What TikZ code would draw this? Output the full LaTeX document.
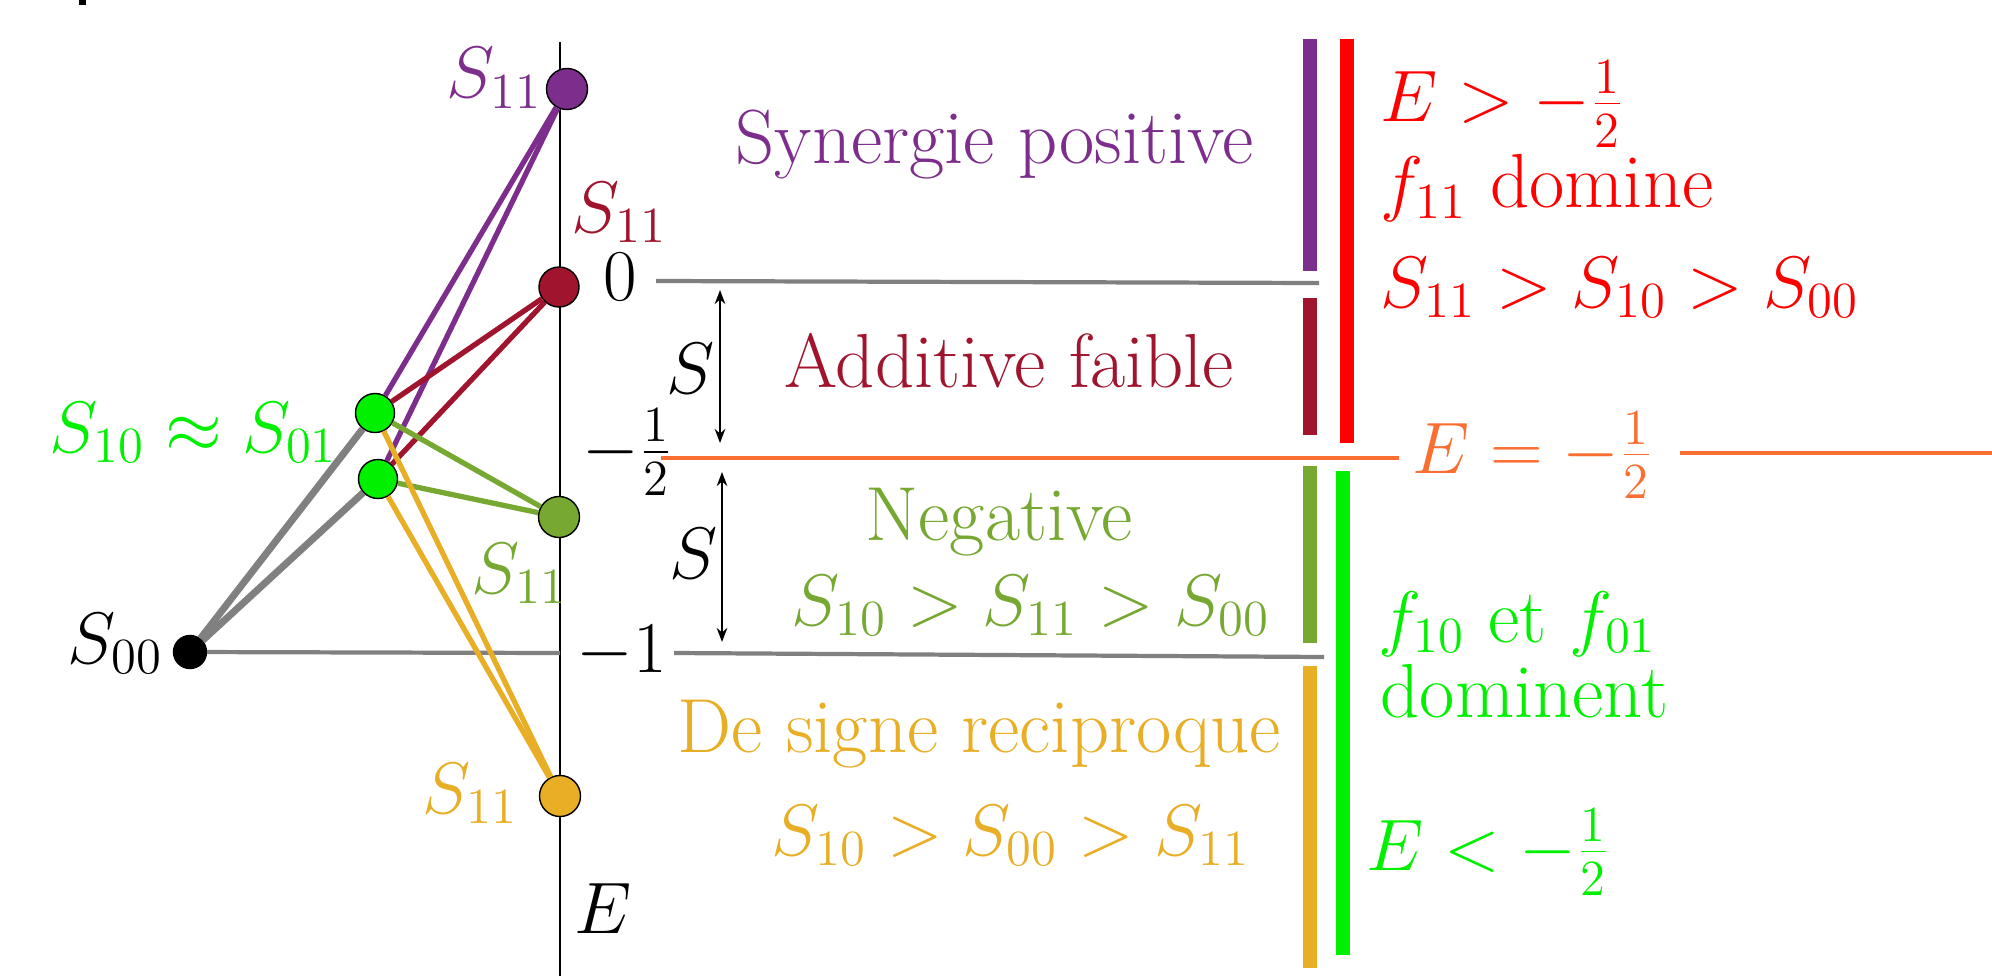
\documentclass[tikz,border=0pt]{standalone}
\usetikzlibrary{arrows.meta}
\definecolor{cpurple}{RGB}{125,45,140}
\definecolor{cdred}{RGB}{160,20,45}
\definecolor{colive}{RGB}{118,168,50}
\definecolor{cyel}{RGB}{232,174,37}
\definecolor{clime}{RGB}{0,240,0}
\definecolor{cred}{RGB}{255,0,0}
\definecolor{corange}{RGB}{250,110,50}
\definecolor{cgray}{RGB}{128,128,128}
\begin{document}
\begin{tikzpicture}[x=0.01cm,y=-0.01cm,
  lbl/.style={inner sep=0pt, font=\huge, anchor=base west},
  txt/.style={lbl, font=\fontsize{21.8}{26}\selectfont},
  dot/.style={circle, draw=black, line width=0.4pt, inner sep=0pt, minimum size=0.4cm},
  conn/.style={line width=1.5pt},
  bar/.style={line width=4pt},
  hline/.style={cgray, line width=1.2pt},
  dbl/.style={{Stealth[length=4pt,width=3pt]}-{Stealth[length=4pt,width=3pt]}, line width=0.6pt}
]
\useasboundingbox (0,0) rectangle (1992,976);
\fill (79,0) rectangle (86,5);
% axis
\coordinate (axtop) at (560,42);
\coordinate (axbot) at (560,976);
\coordinate (axm1) at (560,653);
\draw[line width=0.75pt] (axtop) -- (axbot);
% level lines
\coordinate (l0a) at (656,281);
\coordinate (l0b) at (1319,283);
\coordinate (l1a) at (674,653);
\coordinate (l1b) at (1324,657);
\coordinate (lha) at (661,458);
\coordinate (lhb) at (1399,458);
\coordinate (lhc) at (1680,453);
\coordinate (lhd) at (1992,453);
\draw[hline] (l0a) -- (l0b);
\draw[hline] (l1a) -- (l1b);
\draw[corange, line width=1.4pt] (lha) -- (lhb);
\draw[corange, line width=1.4pt] (lhc) -- (lhd);
% nodes
\node[dot, fill=cpurple, minimum size=0.41cm] (P) at (567,89) {};
\node[dot, fill=cdred] (R) at (559,287) {};
\node[dot, fill=colive, minimum size=0.41cm] (O) at (559,517) {};
\node[dot, fill=cyel, minimum size=0.41cm] (Y) at (560,796) {};
\node[dot, fill=clime, minimum size=0.39cm] (A) at (375,413) {};
\node[dot, fill=clime, minimum size=0.39cm] (B) at (378,479) {};
\node[dot, fill=black, minimum size=0.33cm] (Z) at (190,652) {};
% connectors
\draw[cgray, line width=2pt] (Z) -- (A);
\draw[cgray, line width=2pt] (Z) -- (B);
\draw[cgray, line width=1.2pt] (Z) -- (axm1);
\draw[conn, cpurple] (A) -- (P);
\draw[conn, cpurple] (B) -- (P);
\draw[conn, cdred] (A) -- (R);
\draw[conn, cdred] (B) -- (R);
\draw[conn, colive] (A) -- (O);
\draw[conn, colive] (B) -- (O);
\draw[conn, cyel] (A) -- (Y);
\draw[conn, cyel] (B) -- (Y);
% S arrows
\coordinate (s1a) at (720,290);
\coordinate (s1b) at (720,443);
\coordinate (s2a) at (722,472);
\coordinate (s2b) at (722,642);
\draw[dbl] (s1a) -- (s1b);
\draw[dbl] (s2a) -- (s2b);
% bars
\draw[bar, cpurple] (1310,39) -- (1310,271);
\draw[bar, cdred] (1310,298) -- (1310,435);
\draw[bar, colive] (1310,466) -- (1310,643);
\draw[bar, cyel] (1310,666) -- (1310,968);
\draw[bar, cred] (1347,39) -- (1347,443);
\draw[bar, clime] (1343,471) -- (1343,955);
% axis labels
\node[lbl, text=cpurple] (tP) at (446,98) {$S_{11}$};
\node[lbl, text=cdred] (tR) at (571,232) {$S_{11}$};
\node[lbl] (t0) at (603,300) {$0$};
\node[lbl, anchor=west] (th) at (582,452) {$-\frac{1}{2}$};
\node[lbl] (tm1) at (576,672) {$-1$};
\node[lbl] (tE) at (574,933) {$E$};
\node[lbl] (tZ) at (67,663) {$S_{00}$};
\node[lbl, text=clime] (tA) at (49,452) {$S_{10}\approx S_{01}$};
\node[lbl, text=colive] (tO) at (471,593) {$S_{11}$};
\node[lbl, text=cyel] (tY) at (422,813) {$S_{11}$};
\node[lbl] (tS1) at (666,393) {$S$};
\node[lbl] (tS2) at (669,578) {$S$};
% region texts
\node[txt, text=cpurple] (r1) at (735,163) {Synergie positive};
\node[txt, text=cdred] (r2) at (784,387) {Additive faible};
\node[txt, text=colive] (r3) at (865,540) {Negative};
\node[lbl, text=colive] (r3b) at (791,625) {$S_{10} > S_{11} > S_{00}$};
\node[txt, text=cyel] (r4) at (677,752) {De signe reciproque};
\node[lbl, text=cyel] (r4b) at (771,855) {$S_{10} > S_{00} > S_{11}$};
% right texts
\node[lbl, text=cred] (q1) at (1380,122) {$E > -\frac{1}{2}$};
\node[txt, text=cred] (q2) at (1380,208) {$f_{11}$ domine};
\node[lbl, text=cred] (q3) at (1380,307) {$S_{11} > S_{10} > S_{00}$};
\node[lbl, text=corange] (q4) at (1412,473) {$E = -\frac{1}{2}$};
\node[txt, text=clime] (q5) at (1378,642) {$f_{10}$ et $f_{01}$};
\node[txt, text=clime] (q6) at (1380,717) {dominent};
\node[lbl, text=clime] (q7) at (1366,870) {$E < -\frac{1}{2}$};
\end{tikzpicture}
\end{document}
